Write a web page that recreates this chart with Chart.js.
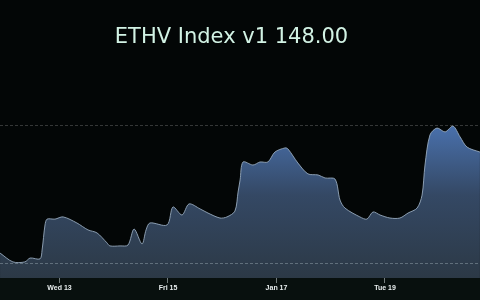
<!DOCTYPE html>
<html>
<head>
<meta charset="utf-8">
<script src="https://cdn.jsdelivr.net/npm/chart.js@4/dist/chart.umd.min.js"></script>
<style>
  html, body { margin: 0; padding: 0; background: #030606; }
  #wrap { width: 480px; height: 300px; position: relative; }
</style>
</head>
<body>
<div id="wrap"><canvas id="c" width="480" height="300"></canvas></div>
<script>
// Hours since Jan 11 00:00
const hours = [21.7, 27.4, 32.7, 35.0, 39.4, 40.3, 41.6, 42.5, 46.0, 49.6, 55.7, 60.6, 64.6, 69.0, 70.3, 74.8,
  78.3, 81.0, 84.5, 86.3, 88.0, 95.6, 98.2, 102.2, 105.3, 110.2, 113.7, 119.0, 122.1, 125.6, 127.0, 127.9,
  129.2, 133.6, 136.7, 140.2, 143.3, 147.8, 149.1, 153.5, 157.9, 162.4, 165.5, 169.9, 172.1, 174.3, 180.9,
  184.0, 186.7, 189.8, 194.2, 198.6, 202.2, 206.2, 208.4, 209.7, 211.9, 215.0, 218.6, 222.1, 225.2, 228.3, 234.0];
const values = [103.6, 100.4, 100.4, 101.8, 101.5, 104.7, 113.8, 115.9, 115.9, 116.7, 114.5, 112.0, 110.9, 107.3, 106.2, 106.2,
  106.5, 112.3, 106.9, 112.0, 114.5, 113.8, 120.3, 117.4, 121.4, 119.6, 118.1, 116.3, 116.7, 118.8, 125.7, 130.1,
  136.6, 135.5, 136.6, 136.6, 140.2, 141.7, 141.3, 136.2, 132.3, 131.9, 130.8, 130.4, 122.8, 119.9, 116.7,
  115.9, 118.5, 117.4, 116.3, 116.3, 118.1, 119.9, 124.6, 135.5, 146.4, 148.9, 147.5, 149.6, 145.7, 142.0, 140.2];
const tickHours = [48, 96, 144, 192];
const tickLabels = ['Wed 13', 'Fri 15', 'Jan 17', 'Tue 19'];
const gridValues = [100, 150];
const titleText = 'ETHV Index v1 148.00';

const points = hours.map((h, i) => ({ x: h, y: values[i] }));

const bgPlugin = {
  id: 'bg',
  beforeDraw(chart) {
    const { ctx, chartArea, width, height } = chart;
    ctx.save();
    ctx.fillStyle = '#030606';
    ctx.fillRect(0, 0, width, height);
    ctx.fillStyle = '#08100e';
    ctx.fillRect(0, chartArea.bottom, width, height - chartArea.bottom);
    ctx.restore();
  }
};

const titleShift = {
  id: 'titleShift',
  afterLayout(chart) {
    if (chart.titleBlock) {
      chart.titleBlock.right -= 17;
    }
  }
};

new Chart(document.getElementById('c'), {
  type: 'line',
  data: {
    datasets: [{
      data: points,
      borderColor: 'rgba(150,168,188,0.9)',
      borderWidth: 1,
      pointRadius: 0,
      tension: 0.3,
      fill: 'start',
      backgroundColor(ctx) {
        const ca = ctx.chart.chartArea;
        if (!ca) return 'rgba(60,85,120,1)';
        const g = ctx.chart.ctx.createLinearGradient(0, ca.top, 0, ca.bottom);
        g.addColorStop(0, 'rgb(82,128,194)');
        g.addColorStop(0.32, 'rgb(72,110,168)');
        g.addColorStop(0.62, 'rgb(52,72,100)');
        g.addColorStop(1, 'rgb(44,57,70)');
        return g;
      }
    }]
  },
  options: {
    responsive: false,
    animation: false,
    devicePixelRatio: 1,
    layout: { padding: 0 },
    plugins: {
      legend: { display: false },
      tooltip: { enabled: false },
      title: {
        display: true,
        text: titleText,
        color: '#d2f2e4',
        font: { family: 'DejaVu Sans', size: 21, weight: 'normal', lineHeight: 1.2 },
        padding: { top: 25, bottom: 9.8 }
      }
    },
    scales: {
      x: {
        type: 'linear',
        min: 21.68,
        max: 234.03,
        afterBuildTicks(axis) { axis.ticks = tickHours.map(v => ({ value: v })); },
        afterFit(axis) { axis.height = 22; },
        grid: { display: true, drawOnChartArea: false, drawTicks: true, tickLength: 5, color: 'rgba(190,200,200,0.6)' },
        border: { display: false },
        ticks: {
          autoSkip: false,
          maxRotation: 0,
          padding: 1,
          color: '#e8eeee',
          font: { family: 'Liberation Sans', size: 7, weight: 'bold' },
          callback(v) { const i = tickHours.indexOf(v); return i >= 0 ? tickLabels[i] : ''; }
        }
      },
      y: {
        min: 94.57,
        max: 173.55,
        afterBuildTicks(axis) { axis.ticks = gridValues.map(v => ({ value: v })); },
        afterFit(axis) { axis.width = 0; },
        grid: {
          z: 1,
          color(ctx) { return ctx.tick && ctx.tick.value === 100 ? 'rgba(160,175,185,0.45)' : 'rgba(255,255,255,0.2)'; },
          drawTicks: false,
          lineWidth: 1
        },
        border: { display: false, dash: [3, 2] },
        ticks: { display: false }
      }
    }
  },
  plugins: [bgPlugin, titleShift]
});
</script>
</body>
</html>
